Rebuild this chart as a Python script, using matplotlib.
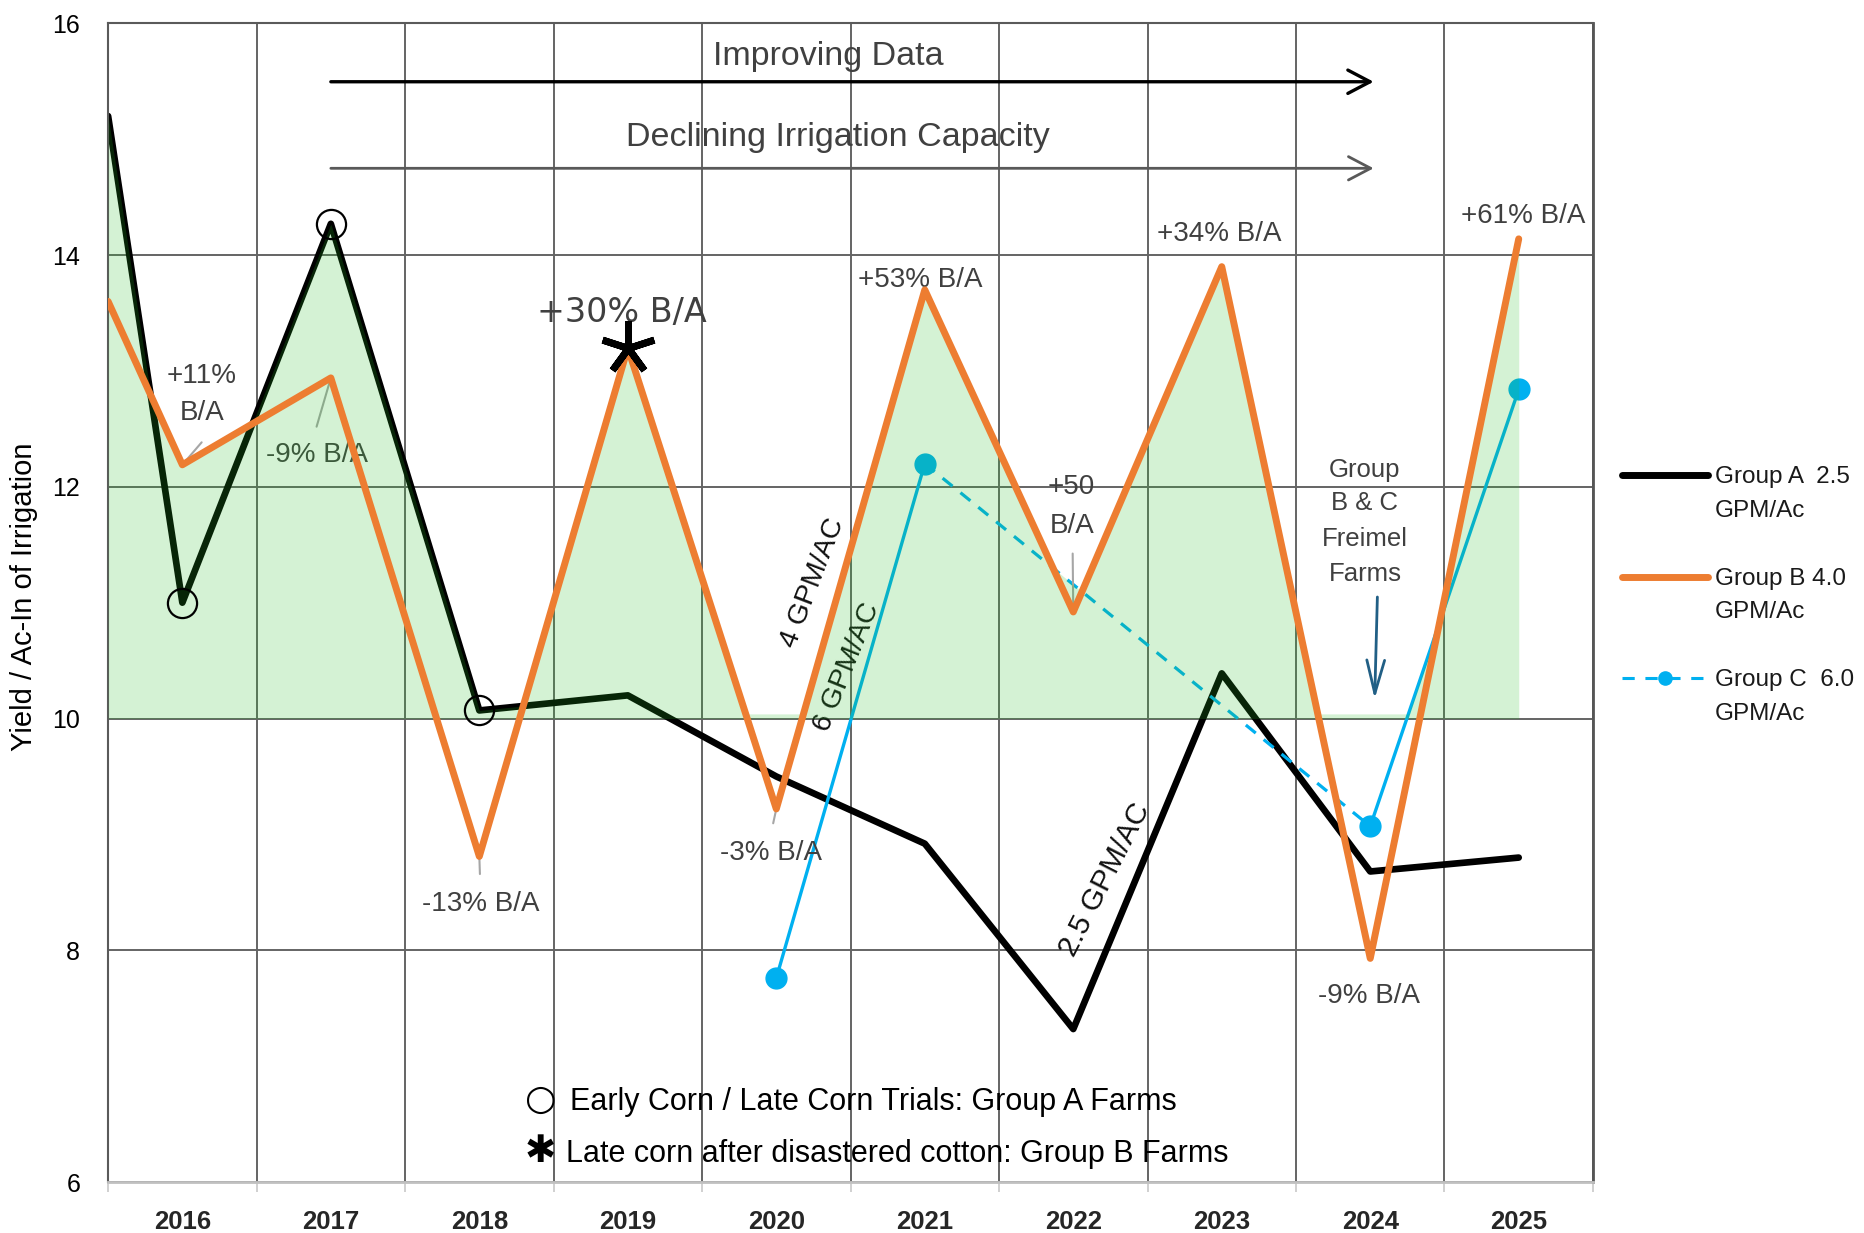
import numpy as np
import matplotlib
matplotlib.use("Agg")
import matplotlib.pyplot as plt
from matplotlib.lines import Line2D

# ---- data ----
years = ['2016', '2017', '2018', '2019', '2020', '2021', '2022', '2023', '2024', '2025']
# value where the A and B lines enter at the left edge of the plot
lead_a = 15.2
lead_b = 13.6
group_a = [11.0, 14.27, 10.07, 10.2, 9.5, 8.92, 7.32, 10.39, 8.68, 8.8]
group_b = [12.19, 12.94, 8.81, 13.2, 9.22, 13.7, 10.92, 13.9, 7.93, 14.14]
group_c = [np.nan, np.nan, np.nan, np.nan, 7.76, 12.2, np.nan, np.nan, 9.07, 12.84]
trial_years = ['2016', '2017', '2018']      # open circles on group A
late_corn_year = '2019'                     # star on group B
shade_base = 10.0

legend_rows = [('Group A  2.5', 'GPM/Ac'), ('Group B 4.0', 'GPM/Ac'), ('Group C  6.0', 'GPM/Ac')]

BLACK = '#000000'
ORANGE = '#ED7D31'
BLUE = '#00B0F0'
GRID = '#646464'
TXT = '#404040'
LEAD = '#A6A6A6'

plt.rcParams['font.family'] = ['Liberation Sans', 'DejaVu Sans']

fig = plt.figure(figsize=(18.64, 12.33), dpi=100)
ax = fig.add_axes([0.0580, 0.04136, 0.7966, 0.9397])

x = np.arange(len(years))
xa = np.r_[-0.5, x]
ya = np.r_[lead_a, group_a]
yb = np.r_[lead_b, group_b]
c = np.array(group_c)

ax.set_xlim(-0.5, len(years) - 0.5)
ax.set_ylim(6, 16)
ax.set_yticks(np.arange(6, 17, 2))
ax.set_xticks(x, years)
ax.set_xticks(np.arange(-0.5, len(years), 1), minor=True)
ax.set_axisbelow(True)
ax.grid(True, which='minor', axis='x', color=GRID, lw=1.4)
ax.grid(True, which='major', axis='y', color=GRID, lw=1.4)
ax.tick_params(axis='x', which='major', length=0, pad=20, labelsize=18.5, labelcolor='#262626')
ax.tick_params(axis='x', which='minor', length=7, color='#D0D0D0', width=1.4)
ax.tick_params(axis='y', length=0, pad=20, labelsize=18)
for lbl in ax.get_xticklabels():
    lbl.set_fontweight('bold')
for s in ['left', 'top']:
    ax.spines[s].set_color('#5A5A5A')
    ax.spines[s].set_linewidth(1.5)
ax.spines['right'].set_color('#555555')
ax.spines['right'].set_linewidth(2.0)
ax.spines['bottom'].set_color('#C0C0C0')
ax.spines['bottom'].set_linewidth(2.0)

# ---- lines ----
ax.plot(xa, ya, color=BLACK, lw=4.8, solid_joinstyle='round', solid_capstyle='round', zorder=2)
ax.plot(x, c, color=BLUE, lw=2.4, marker='o', ms=15, zorder=2)
valid = np.flatnonzero(~np.isnan(c))
for i, j in zip(valid[:-1], valid[1:]):
    if j - i > 1:
        ax.plot([x[i], x[j]], [c[i], c[j]], color=BLUE, lw=2.3, ls=(0, (4, 3.2)), zorder=2)

# shaded band: everything under the highest line that lies above 10
xs = np.linspace(-0.5, len(years) - 1, 2000)
env = np.maximum(np.interp(xs, xa, ya), np.interp(xs, xa, yb))
inside = (xs >= x[valid[0]]) & (xs <= x[valid[-1]])
env[inside] = np.maximum(env[inside], np.interp(xs[inside], x[valid], c[valid]))
ax.fill_between(xs, shade_base, np.maximum(env, shade_base + 0.04),
                color='#28BE28', alpha=0.2, lw=0, zorder=3)

ax.plot(xa, yb, color=ORANGE, lw=5.0, solid_joinstyle='round', solid_capstyle='round', zorder=4)

ti = [years.index(y) for y in trial_years]
ax.plot(x[ti], np.array(group_a)[ti], ls='none', marker='o', ms=21, mfc='none',
        mec=BLACK, mew=1.6, zorder=5)
si = years.index(late_corn_year)
ax.plot(x[si], group_b[si], ls='none', marker=(5, 2, 0), ms=39, mec=BLACK, mew=5, zorder=5)

# ---- annotations ----
def note(xp, yp, s, size=20, **kw):
    ax.text(xp, yp, s, size=size, color=TXT, ha='center', va='baseline', zorder=2.5, **kw)

def leader(i, vals, xt, yt):
    ax.annotate('', xy=(x[i], vals[i]), xytext=(xt, yt), zorder=2.5,
                arrowprops=dict(arrowstyle='-', color=LEAD, lw=1.5, shrinkA=0, shrinkB=0))

note(0.132, 12.90, '+11%')
note(0.132, 12.575, 'B/A')
leader(0, group_b, 0.130, 12.384)
note(0.906, 12.21, '-9% B/A')
leader(1, group_b, 0.904, 12.519)
note(2.963, 13.42, '+30% B/A', size=24, family='DejaVu Sans')
note(2.007, 8.343, '-13% B/A')
leader(2, group_b, 2.004, 8.658)
note(3.966, 8.775, '-3% B/A')
leader(4, group_b, 3.979, 9.096)
note(4.971, 13.723, '+53% B/A')
note(5.989, 11.936, '+50')
note(5.989, 11.598, 'B/A')
leader(6, group_b, 5.996, 11.424)
note(6.985, 14.123, '+34% B/A')
note(7.990, 7.544, '-9% B/A')
note(9.033, 14.278, '+61% B/A')
for yy, s in zip([12.084, 11.797, 11.493, 11.188], ['Group', 'B & C', 'Freimel', 'Farms']):
    note(7.964, yy, s, size=18.5)
ax.annotate('', xy=(8.030, 10.170), xytext=(8.048, 11.049), zorder=2.5,
            arrowprops=dict(arrowstyle='->,head_length=1.2,head_width=0.32', mutation_scale=20,
                            color='#215F85', lw=2, shrinkA=0, shrinkB=0))

# trend arrows at the top
ax.annotate('', xy=(8.023, 15.496), xytext=(1.0, 15.496), zorder=2.5,
            arrowprops=dict(arrowstyle='->,head_length=0.8,head_width=0.42', mutation_scale=20,
                            color=BLACK, lw=2.4, shrinkA=0, shrinkB=0))
ax.annotate('', xy=(8.023, 14.749), xytext=(1.0, 14.749), zorder=2.5,
            arrowprops=dict(arrowstyle='->,head_length=0.8,head_width=0.42', mutation_scale=20,
                            color='#595959', lw=2.0, shrinkA=0, shrinkB=0))
note(4.348, 15.640, 'Improving Data', size=24.5)
note(4.412, 14.944, 'Declining Irrigation Capacity', size=24.5)

# capacity labels along the lines
ax.text(4.243, 11.170, '4 GPM/AC', size=20.5, rotation=69, ha='center', va='center',
        color='#111111', zorder=2.5)
ax.text(4.479, 10.440, '6 GPM/AC', size=20.5, rotation=68, ha='center', va='center',
        color='#111111', zorder=2.5)
ax.text(6.213, 8.609, '2.5 GPM/AC', size=21.5, rotation=63, ha='center', va='center',
        color='#111111', zorder=2.5)

# symbol key at the bottom
ax.text(2.412, 6.708, '\u25CB', size=26, family='DejaVu Sans', ha='center', va='center',
        color=BLACK, zorder=6)
ax.text(2.614, 6.621, 'Early Corn / Late Corn Trials: Group A Farms', size=22,
        ha='left', va='baseline', color=BLACK, zorder=6)
ax.text(2.412, 6.259, '\u2731', size=27, family='DejaVu Sans', ha='center', va='center',
        color=BLACK, zorder=6)
ax.text(2.583, 6.175, 'Late corn after disastered cotton: Group B Farms', size=22,
        ha='left', va='baseline', color=BLACK, zorder=6)

# y label
fig.text(24 / 1864, 1 - 597 / 1233, 'Yield / Ac-In of Irrigation', rotation=90,
         ha='center', va='center', size=21, color=BLACK)

# ---- legend on the right ----
def fx(px):
    return px / 1864

def fy(py):
    return 1 - py / 1233

handles = [
    dict(color=BLACK, lw=5, ls='-'),
    dict(color=ORANGE, lw=5, ls='-'),
    dict(color=BLUE, lw=2.2, ls=(0, (4, 3.5))),
]
for k, (h, (l1, l2)) in enumerate(zip(handles, legend_rows)):
    yh = 475 + k * 101.5
    fig.add_artist(Line2D([fx(1622), fx(1708)], [fy(yh), fy(yh)], transform=fig.transFigure,
                          solid_capstyle='round', **h))
    if k == 2:
        fig.add_artist(Line2D([fx(1665)], [fy(yh)], transform=fig.transFigure, marker='o',
                              ms=9.5, color=BLUE, ls='none'))
    fig.text(fx(1715), fy(yh + 8), l1, size=17.5, ha='left', va='baseline', color='#1A1A1A')
    fig.text(fx(1715), fy(yh + 42), l2, size=17.5, ha='left', va='baseline', color='#1A1A1A')

fig.savefig('out.png', dpi=100)
